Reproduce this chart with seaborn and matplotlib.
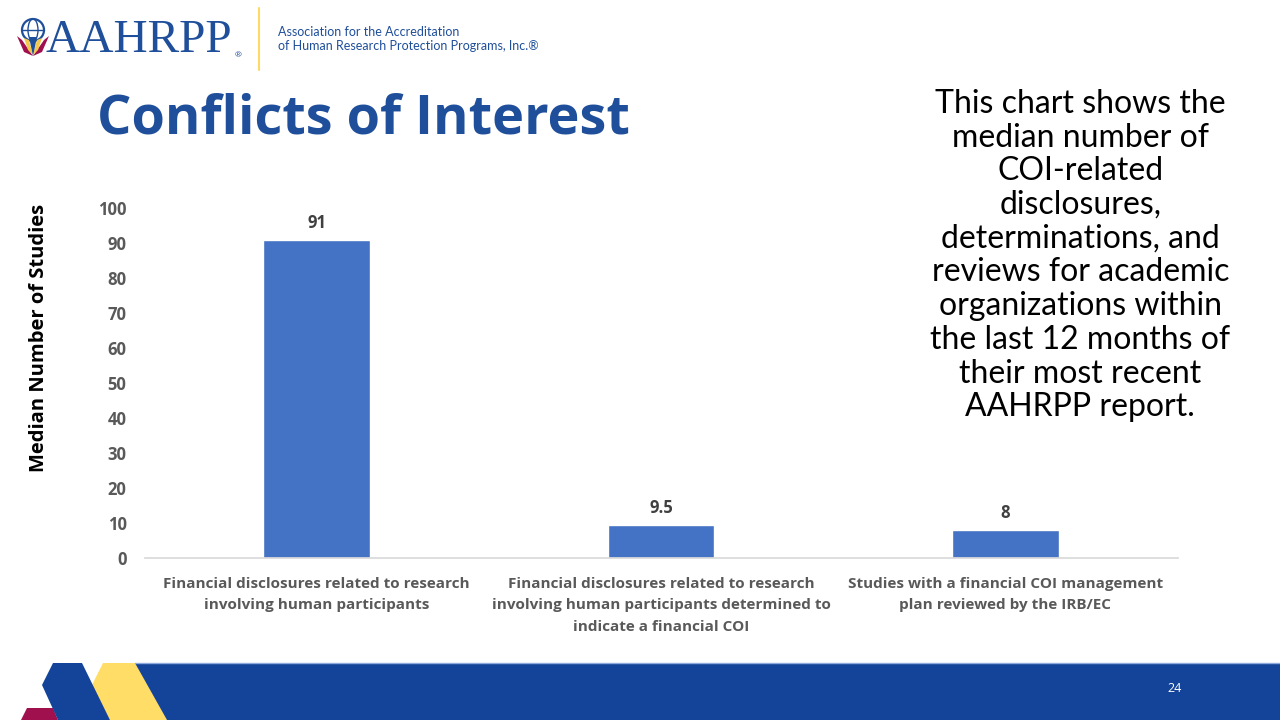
import pandas as pd
import matplotlib.pyplot as plt
import matplotlib.patches as mpatches
import seaborn as sns

sns.set_theme(style="white")
plt.rcParams["font.family"] = ["Open Sans", "DejaVu Sans"]

# =========================
# DATA
# =========================
categories = [
    "Financial disclosures related to research\ninvolving human participants",
    "Financial disclosures related to research\ninvolving human participants determined to\nindicate a financial COI",
    "Studies with a financial COI management\nplan reviewed by the IRB/EC",
]
medians = [91, 9.5, 8]
value_labels = ["91", "9.5", "8"]
y_ticks = [0, 10, 20, 30, 40, 50, 60, 70, 80, 90, 100]

df = pd.DataFrame({"Category": categories, "Median": medians})

W, H = 1280, 720


def px(x, y):
    # pixel position on the slide -> figure fraction
    return [x / W, 1 - y / H]


# =========================
# FIGURE
# =========================
fig = plt.figure(figsize=(12.8, 7.2), dpi=100)
fig.patch.set_facecolor("white")

ax = fig.add_axes([0.113, 0.225, 0.807, 0.486])
sns.barplot(data=df, x="Category", y="Median", color="#4472C4",
            width=0.31, saturation=1, ax=ax)

ax.set_ylim(0, 100)
ax.set_yticks(y_ticks)
ax.set_yticklabels([str(t) for t in y_ticks], fontsize=12, color="#595959",
                   fontweight="bold")
ax.tick_params(axis="y", length=0, pad=13)
ax.tick_params(axis="x", length=0, pad=14)
ax.set_xticks(range(len(categories)))
ax.set_xticklabels(categories, fontsize=11, color="#595959", fontweight="bold",
                   linespacing=1.64)
ax.set_xlabel("")
ax.set_ylabel("Median Number of Studies", fontsize=14.5, color="black",
              fontweight="bold")
ax.yaxis.set_label_coords(-0.093, 0.63)
for side in ["top", "right", "left"]:
    ax.spines[side].set_visible(False)
ax.spines["bottom"].set_color("#D9D9D9")
ax.grid(False)

for i, (v, lab) in enumerate(zip(medians, value_labels)):
    ax.text(i, v + 2.2, lab, ha="center", va="bottom", fontsize=12,
            color="#404040", fontweight="bold")

# =========================
# TITLE / SIDE TEXT
# =========================
fig.text(0.076, 0.834, "Conflicts of Interest", fontsize=39, fontweight="bold",
         color="#1F4E9A", va="center", ha="left")

side_text = ("This chart shows the\nmedian number of\nCOI-related\ndisclosures,\n"
             "determinations, and\nreviews for academic\norganizations within\n"
             "the last 12 months of\ntheir most recent\nAAHRPP report.")
fig.text(0.844, 0.645, side_text, fontsize=23, color="black", ha="center",
         va="center", linespacing=1.155, family=["Lato", "DejaVu Sans"])

# =========================
# HEADER LOGO
# =========================
fig.add_artist(mpatches.Ellipse(px(33, 30), 22 / W, 22 / H,
                                transform=fig.transFigure, facecolor="white",
                                edgecolor="#1F4E9A", lw=1.6))
fig.add_artist(plt.Line2D([22 / W, 44 / W], [1 - 30 / H, 1 - 30 / H],
                          transform=fig.transFigure, color="#1F4E9A", lw=1))
fig.add_artist(mpatches.Ellipse(px(33, 30), 10 / W, 22 / H,
                                transform=fig.transFigure, facecolor="none",
                                edgecolor="#1F4E9A", lw=1))
fig.add_artist(mpatches.Polygon([px(17, 36), px(24, 52), px(33, 56), px(22, 40)],
                                transform=fig.transFigure,
                                facecolor="#A0104F", edgecolor="none"))
fig.add_artist(mpatches.Polygon([px(49, 36), px(42, 52), px(33, 56), px(44, 40)],
                                transform=fig.transFigure,
                                facecolor="#A0104F", edgecolor="none"))
fig.add_artist(mpatches.Polygon([px(24, 38), px(28, 50), px(33, 55), px(29, 40)],
                                transform=fig.transFigure,
                                facecolor="#F2C94C", edgecolor="none"))
fig.add_artist(mpatches.Polygon([px(42, 38), px(38, 50), px(33, 55), px(37, 40)],
                                transform=fig.transFigure,
                                facecolor="#F2C94C", edgecolor="none"))
fig.add_artist(mpatches.Polygon([px(29, 37), px(37, 37), px(33, 56)],
                                transform=fig.transFigure,
                                facecolor="#1F4E9A", edgecolor="none"))
fig.text(45 / W, 1 - 41 / H, "AAHRPP", fontsize=34, color="#1F4E9A",
         family=["Liberation Serif", "DejaVu Serif"], va="center", ha="left")
fig.text(238 / W, 1 - 56 / H, "\u00ae", fontsize=6, color="#1F4E9A",
         va="center", ha="center")
fig.add_artist(plt.Line2D([259 / W, 259 / W], [1 - 70 / H, 1 - 8 / H],
                          transform=fig.transFigure, color="#FFD966", lw=1.5))
fig.text(278 / W, 1 - 39 / H, "Association for the Accreditation\n"
         "of Human Research Protection Programs, Inc.\u00ae",
         fontsize=9, color="#1F4E9A", va="center", ha="left", linespacing=1.15,
         family=["Lato", "DejaVu Sans"])

# =========================
# FOOTER
# =========================
fig.add_artist(mpatches.Polygon([px(135, 663), px(W, 663), px(W, H), px(135, H)],
                                transform=fig.transFigure,
                                facecolor="#14449A", edgecolor="none"))
fig.add_artist(plt.Line2D([135 / W, 1], [1 - 663 / H, 1 - 663 / H],
                          transform=fig.transFigure, color="#8FAADC", lw=1))
fig.add_artist(mpatches.Polygon([px(27, 708), px(53, 708), px(58, 720), px(21, 720)],
                                transform=fig.transFigure,
                                facecolor="#A0104F", edgecolor="none"))
fig.add_artist(mpatches.Polygon([px(103, 663), px(135, 663), px(167, 720),
                                 px(110, 720), px(92, 685)],
                                transform=fig.transFigure,
                                facecolor="#FFDD66", edgecolor="none"))
fig.add_artist(mpatches.Polygon([px(53, 663), px(82, 663), px(110, 720),
                                 px(58, 720), px(42, 685)],
                                transform=fig.transFigure,
                                facecolor="#14449A", edgecolor="none"))
fig.text(1175 / W, 1 - 688 / H, "24", fontsize=9, color="white",
         ha="center", va="center")

fig.savefig("out.png", dpi=100)
